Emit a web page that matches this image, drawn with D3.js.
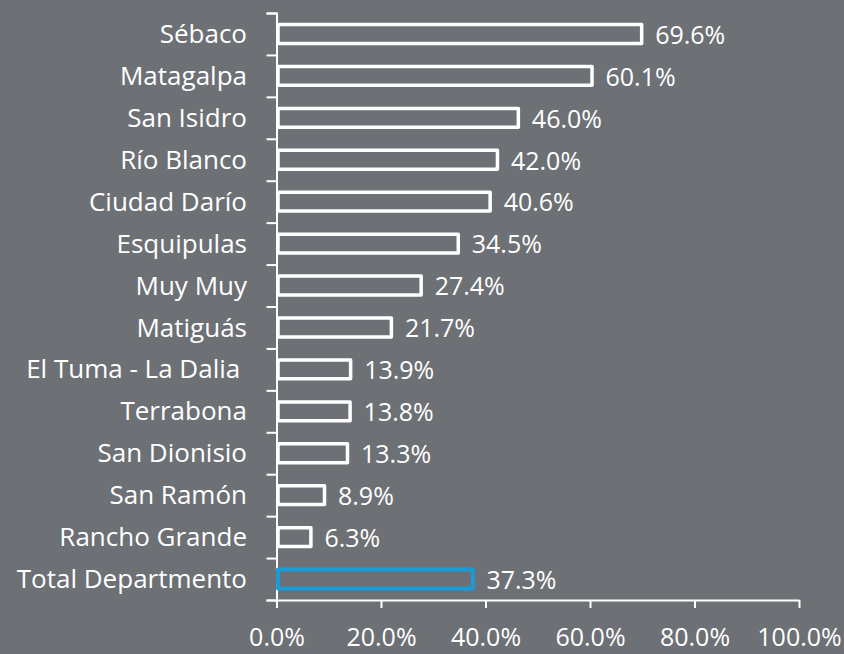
<!DOCTYPE html>
<html>
<head>
<meta charset="utf-8">
<script src="https://cdn.jsdelivr.net/npm/d3@7"></script>
<style>
  body { margin: 0; background: #6d7075; }
  svg text { font-family: "Open Sans", "Noto Sans", sans-serif; fill: #ffffff; white-space: pre; }
</style>
</head>
<body>
<div id="chart"></div>
<script>
// data
var categories = ["Sébaco", "Matagalpa", "San Isidro", "Río Blanco", "Ciudad Darío", "Esquipulas",
                  "Muy Muy", "Matiguás", "El Tuma - La Dalia ", "Terrabona", "San Dionisio",
                  "San Ramón", "Rancho Grande", "Total Departmento"]
var values = [69.6, 60.1, 46.0, 42.0, 40.6, 34.5, 27.4, 21.7, 13.9, 13.8, 13.3, 8.9, 6.3, 37.3]
var xTicks = [0, 20, 40, 60, 80, 100]

var width = 844, height = 654
var margin = {top: 13, right: 45, bottom: 54, left: 276.5}

var svg = d3.select("#chart")
    .append("svg")
    .attr("width", width)
    .attr("height", height)

var scale_x = d3.scaleLinear()
    .domain([0, 100])
    .range([margin.left, width - margin.right])

var scale_y = d3.scaleBand()
    .domain(categories)
    .range([margin.top, height - margin.bottom])

// y axis: ticks between bands
var scale_yb = d3.scaleLinear()
    .domain([0, categories.length])
    .range([margin.top, height - margin.bottom])

var yAxis = svg.append("g")
    .attr("transform", "translate(" + margin.left + ",0)")
    .call(d3.axisLeft(scale_yb)
        .tickValues(d3.range(categories.length + 1))
        .tickSize(10)
        .tickFormat(""))

var xAxis = svg.append("g")
    .attr("transform", "translate(0," + (height - margin.bottom) + ")")
    .call(d3.axisBottom(scale_x)
        .tickValues(xTicks)
        .tickSize(8)
        .tickSizeOuter(0)
        .tickPadding(20)
        .tickFormat(d => d.toFixed(1) + "%"))

svg.selectAll(".domain, .tick line")
    .attr("stroke", "#ffffff")
    .attr("stroke-width", 2)

xAxis.selectAll("text")
    .style("font-size", "25px")
    .attr("fill", "#ffffff")

// category labels
svg.selectAll(".cat")
    .data(categories)
    .enter()
    .append("text")
    .attr("x", 247)
    .attr("y", d => scale_y(d) + scale_y.bandwidth() / 2)
    .attr("dy", "0.35em")
    .attr("text-anchor", "end")
    .style("font-size", "26px")
    .text(d => d)

// bars
var barH = scale_y.bandwidth() * 0.45
svg.selectAll(".bar")
    .data(values)
    .enter()
    .append("rect")
    .attr("x", scale_x(0) + 1.5)
    .attr("y", (d, i) => scale_y(categories[i]) + (scale_y.bandwidth() - barH) / 2)
    .attr("width", d => scale_x(d) - scale_x(0))
    .attr("height", barH)
    .attr("fill", "none")
    .attr("stroke", (d, i) => i == values.length - 1 ? "#1a9bd7" : "#ffffff")
    .attr("stroke-width", (d, i) => i == values.length - 1 ? 4 : 3.5)
    .attr("stroke-linejoin", "round")

// value labels
svg.selectAll(".val")
    .data(values)
    .enter()
    .append("text")
    .attr("x", d => scale_x(d) + 15)
    .attr("y", (d, i) => scale_y(categories[i]) + scale_y.bandwidth() / 2 + 1)
    .attr("dy", "0.35em")
    .style("font-size", "25px")
    .text(d => d.toFixed(1) + "%")
</script>
</body>
</html>
